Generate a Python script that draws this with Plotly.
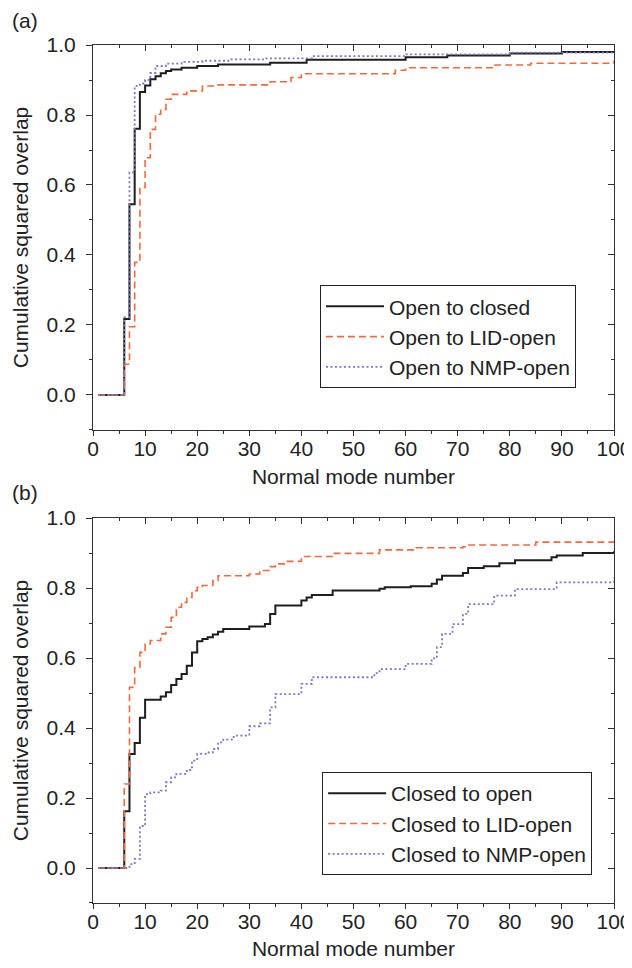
import plotly.graph_objects as go

# ---------------- data (step breakpoints: mode number -> cumulative squared overlap) ----------------
a_closed_modes = [1, 6, 7, 8, 9, 10, 11, 12, 13, 14, 15, 17, 20, 24, 34, 41, 60, 68, 80, 90, 100]
a_closed_vals = [0, 0.217, 0.545, 0.761, 0.866, 0.884, 0.902, 0.911, 0.919, 0.926, 0.930, 0.935,
                 0.940, 0.944, 0.949, 0.958, 0.965, 0.970, 0.976, 0.980, 0.981]

a_lid_modes = [1, 6, 7, 8, 9, 10, 11, 12, 13, 14, 15, 18, 21, 24, 34, 38, 40, 58, 60, 77, 84, 100]
a_lid_vals = [0, 0.088, 0.195, 0.379, 0.593, 0.678, 0.759, 0.802, 0.816, 0.845, 0.859, 0.869,
              0.883, 0.886, 0.895, 0.907, 0.918, 0.928, 0.935, 0.943, 0.948, 0.956]

a_nmp_modes = [1, 6, 7, 8, 9, 10, 11, 12, 14, 17, 21, 26, 33, 42, 60, 80, 100]
a_nmp_vals = [0, 0.222, 0.636, 0.883, 0.890, 0.900, 0.920, 0.940, 0.947, 0.952, 0.955, 0.959,
              0.962, 0.968, 0.973, 0.978, 0.982]

b_open_modes = [1, 6, 7, 8, 9, 10, 13, 14, 15, 16, 17, 18, 19, 20, 21, 22, 23, 24, 25, 30, 33, 34,
                35, 40, 41, 42, 46, 55, 56, 61, 65, 66, 67, 71, 72, 75, 78, 81, 88, 89, 94, 100]
b_open_vals = [0, 0.162, 0.326, 0.357, 0.429, 0.481, 0.490, 0.502, 0.523, 0.540, 0.554, 0.578,
               0.616, 0.648, 0.654, 0.659, 0.667, 0.675, 0.683, 0.690, 0.697, 0.726, 0.750, 0.764,
               0.773, 0.780, 0.793, 0.798, 0.802, 0.805, 0.812, 0.824, 0.835, 0.843, 0.857, 0.862,
               0.871, 0.879, 0.888, 0.893, 0.900, 0.905]

b_lid_modes = [1, 6, 7, 8, 9, 10, 11, 13, 14, 15, 16, 17, 18, 19, 20, 21, 23, 24, 30, 32, 34, 35,
               37, 40, 46, 55, 62, 71, 72, 85, 100]
b_lid_vals = [0, 0.240, 0.516, 0.573, 0.616, 0.640, 0.650, 0.669, 0.688, 0.716, 0.745, 0.759,
              0.773, 0.792, 0.802, 0.807, 0.821, 0.835, 0.840, 0.850, 0.861, 0.869, 0.876, 0.890,
              0.899, 0.909, 0.915, 0.918, 0.923, 0.931, 0.940]

b_nmp_modes = [1, 7, 8, 9, 10, 11, 13, 14, 15, 16, 18, 19, 20, 22, 23, 24, 25, 27, 30, 32, 34, 35,
               40, 42, 54, 55, 60, 65, 66, 67, 69, 71, 72, 77, 81, 89, 100]
b_nmp_vals = [0, 0.011, 0.026, 0.120, 0.211, 0.216, 0.221, 0.245, 0.259, 0.269, 0.280, 0.307,
              0.326, 0.330, 0.340, 0.359, 0.367, 0.378, 0.405, 0.413, 0.459, 0.497, 0.526, 0.545,
              0.557, 0.568, 0.583, 0.599, 0.631, 0.669, 0.697, 0.726, 0.754, 0.778, 0.797, 0.816,
              0.830]

a_names = ["Open to closed", "Open to LID-open", "Open to NMP-open"]
b_names = ["Closed to open", "Closed to LID-open", "Closed to NMP-open"]

x_ticks = list(range(0, 101, 10))
y_ticks = [0.0, 0.2, 0.4, 0.6, 0.8, 1.0]

# ---------------- styles ----------------
FONT = "Liberation Sans, Arial, sans-serif"
FS = 21
TXT = "#222222"
BLACK = "#1e1e1e"
RED = "#f26a3c"
BLUE = "#7b78c8"
styles = [dict(color=BLACK, width=2.0, dash="solid"),
          dict(color=RED, width=1.6, dash="7px,4px"),
          dict(color=BLUE, width=1.8, dash="2px,2.5px")]

fig = go.Figure()

panel_a = [(a_closed_modes, a_closed_vals), (a_lid_modes, a_lid_vals), (a_nmp_modes, a_nmp_vals)]
panel_b = [(b_open_modes, b_open_vals), (b_lid_modes, b_lid_vals), (b_nmp_modes, b_nmp_vals)]

for (xs, ys), name, st in zip(panel_a, a_names, styles):
    fig.add_trace(go.Scatter(x=xs, y=ys, mode="lines", line=dict(shape="hv", **st),
                             name=name, xaxis="x", yaxis="y", legend="legend"))
for (xs, ys), name, st in zip(panel_b, b_names, styles):
    fig.add_trace(go.Scatter(x=xs, y=ys, mode="lines", line=dict(shape="hv", **st),
                             name=name, xaxis="x2", yaxis="y2", legend="legend2"))

# empty traces to activate the mirror axes (top / right, inside ticks)
fig.add_trace(go.Scatter(x=[], y=[], xaxis="x3", yaxis="y3", showlegend=False, hoverinfo="skip"))
fig.add_trace(go.Scatter(x=[], y=[], xaxis="x4", yaxis="y4", showlegend=False, hoverinfo="skip"))

top_dom = [0.5513, 1.0]
bot_dom = [0.0, 0.4487]

def xax(anchor, title):
    return dict(anchor=anchor, range=[0, 100], tickmode="array", tickvals=x_ticks,
                ticks="outside", ticklen=5, tickwidth=1, tickcolor="#333", automargin=False,
                minor=dict(dtick=5, tick0=0, ticks="outside", ticklen=3, tickcolor="#333"),
                showline=True, linecolor="#333", linewidth=1, showgrid=False, zeroline=False,
                tickfont=dict(size=FS, color=TXT, family=FONT), ticklabelstandoff=-5,
                title=dict(text=title, font=dict(size=FS, color=TXT, family=FONT), standoff=10))

def yax(anchor, dom):
    return dict(anchor=anchor, domain=dom, range=[-0.1, 1.0], tickmode="array", tickvals=y_ticks,
                tickformat=".1f", ticks="outside", ticklen=6, tickwidth=1, tickcolor="#333",
                automargin=False, ticklabelstandoff=6,
                minor=dict(dtick=0.1, tick0=0, ticks="outside", ticklen=3, tickcolor="#333"),
                showline=True, linecolor="#333", linewidth=1, showgrid=False, zeroline=False,
                tickfont=dict(size=FS, color=TXT, family=FONT),
                title=dict(text="Cumulative squared overlap",
                           font=dict(size=FS, color=TXT, family=FONT), standoff=12))

def xmirror(over, anchor):
    return dict(overlaying=over, anchor=anchor, side="top", range=[0, 100], tickmode="array",
                tickvals=x_ticks, ticks="inside", ticklen=6, tickcolor="#333", automargin=False,
                minor=dict(dtick=5, tick0=0, ticks="inside", ticklen=3, tickcolor="#333"),
                showticklabels=False, showline=True, linecolor="#333", linewidth=1,
                showgrid=False, zeroline=False)

def ymirror(over, anchor, dom):
    return dict(overlaying=over, anchor=anchor, side="right", domain=dom, range=[-0.1, 1.0],
                tickmode="array", tickvals=y_ticks, ticks="inside", ticklen=6, tickcolor="#333",
                automargin=False,
                minor=dict(dtick=0.1, tick0=0, ticks="inside", ticklen=3, tickcolor="#333"),
                showticklabels=False, showline=True, linecolor="#333", linewidth=1,
                showgrid=False, zeroline=False)

leg_common = dict(bgcolor="white", bordercolor="#222", borderwidth=1,
                  font=dict(size=FS, color=TXT, family=FONT), xanchor="right", yanchor="bottom",
                  itemwidth=58, tracegroupgap=0)

# the page body adds an 8 px offset on each side, so the figure is smaller than the window
fig.update_layout(
    width=624, height=952,
    margin=dict(l=85, r=18, t=37, b=57),
    paper_bgcolor="white", plot_bgcolor="white",
    font=dict(family=FONT, size=FS, color=TXT),
    xaxis=xax("y", "Normal mode number"),
    yaxis=yax("x", top_dom),
    xaxis2=xax("y2", "Normal mode number"),
    yaxis2=yax("x2", bot_dom),
    xaxis3=xmirror("x", "y"),
    yaxis3=ymirror("y", "x", top_dom),
    xaxis4=xmirror("x2", "y2"),
    yaxis4=ymirror("y2", "x2", bot_dom),
    legend=dict(x=0.927, y=0.600, **leg_common),
    legend2=dict(x=0.958, y=0.0326, **leg_common),
    showlegend=True,
    annotations=[
        dict(text="(a)", xref="paper", yref="paper", x=-0.159, y=1.029, showarrow=False,
             xanchor="left", yanchor="middle", font=dict(size=FS, color=TXT, family=FONT)),
        dict(text="(b)", xref="paper", yref="paper", x=-0.159, y=0.478, showarrow=False,
             xanchor="left", yanchor="middle", font=dict(size=FS, color=TXT, family=FONT)),
    ],
)

fig.write_html("out.html")
